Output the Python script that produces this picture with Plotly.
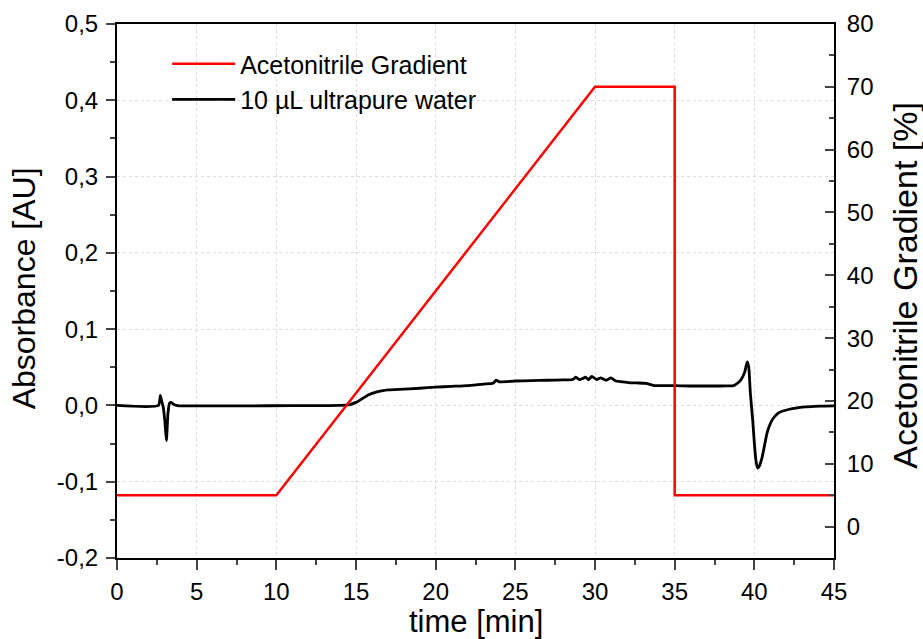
import plotly.graph_objects as go

# ---- data ----
grad_time = [0, 10, 30, 35, 35, 45]
grad_pct = [5, 5, 70, 70, 5, 5]

water_time = [0, 2.6, 2.72, 2.8, 2.9, 3.0, 3.1, 3.2, 3.3, 3.4, 3.6, 3.9, 5, 8, 11, 14,
              14.6, 15.0, 15.4, 15.8, 16.2, 16.6, 17.0, 17.7, 19, 20, 21, 22, 23, 23.6,
              23.8, 24.0, 25, 26, 27, 28, 28.6, 28.8, 29.0, 29.2, 29.4, 29.6, 29.8, 30.1,
              30.35, 30.7, 31.0, 31.3, 31.7, 32.1, 32.6, 33.2, 33.7, 34.3, 35.0, 36, 37,
              38, 38.7, 39.0, 39.2, 39.4, 39.55, 39.65, 39.75, 39.9, 40.0, 40.1, 40.2,
              40.3, 40.5, 40.8, 41.0, 41.2, 41.5, 41.7, 42.2, 42.6, 43.2, 43.8, 44.4, 45]
water_abs = [0.0, 0.0, 0.013, 0.006, -0.002, -0.02, -0.046, -0.01, 0.003, 0.004, 0.001,
             -0.0005, -0.0005, -0.0005, -0.0003, 0.0,
             0.001, 0.004, 0.009, 0.014, 0.017, 0.019, 0.0205, 0.021, 0.0225, 0.024,
             0.025, 0.026, 0.028, 0.029,
             0.033, 0.031, 0.032, 0.0325, 0.033, 0.0335, 0.034, 0.037, 0.034, 0.035,
             0.037, 0.034, 0.038, 0.034,
             0.036, 0.033, 0.036, 0.032, 0.031, 0.030, 0.0295, 0.029, 0.026, 0.026,
             0.026, 0.0255, 0.0255,
             0.0255, 0.026, 0.030, 0.035, 0.044, 0.057, 0.050, 0.016, -0.02, -0.049,
             -0.072, -0.082,
             -0.080, -0.067, -0.036, -0.024, -0.0165, -0.010, -0.008, -0.005, -0.0034,
             -0.002, -0.0013, -0.0008, -0.0005]

abs_ticks = [-0.2, -0.1, 0.0, 0.1, 0.2, 0.3, 0.4, 0.5]
abs_ticklabels = ["-0,2", "-0,1", "0,0", "0,1", "0,2", "0,3", "0,4", "0,5"]
pct_ticks = [0, 10, 20, 30, 40, 50, 60, 70, 80]
time_ticks = [0, 5, 10, 15, 20, 25, 30, 35, 40, 45]

x_title = "time [min]"
y_title = "Absorbance [AU]"
y2_title = "Acetonitrile Gradient [%]"

FONT = "Liberation Sans, Arial, sans-serif"

fig = go.Figure()
fig.add_trace(go.Scatter(x=water_time, y=water_abs, mode="lines",
                         name="10 µL ultrapure water",
                         line=dict(color="black", width=2.8, shape="spline", smoothing=0.5),
                         legendrank=2, yaxis="y"))
fig.add_trace(go.Scatter(x=grad_time, y=grad_pct, mode="lines",
                         name="Acetonitrile Gradient",
                         line=dict(color="#ff0000", width=2.5),
                         legendrank=1, yaxis="y2"))

fig.update_layout(
    width=923, height=639,
    margin=dict(l=117, r=89, t=24, b=81),
    paper_bgcolor="white", plot_bgcolor="white",
    font=dict(family=FONT, size=24, color="black"),
    separators=",.",
    showlegend=True,
    legend=dict(x=0.07, y=0.968, xanchor="left", yanchor="top",
                bgcolor="rgba(0,0,0,0)", font=dict(size=25), itemwidth=63,
                tracegroupgap=0),
    xaxis=dict(range=[0, 45], tickvals=time_ticks, ticks="outside", ticklen=10,
               tickwidth=2, showline=True, linewidth=2, linecolor="black",
               mirror=True, zeroline=False, automargin=False,
               showgrid=True, gridcolor="#dcdcdc", griddash="dot", gridwidth=1,
               minor=dict(dtick=2.5, tick0=0, ticks="outside", ticklen=5, tickwidth=2,
                          showgrid=False),
               ticklabelstandoff=1),
    yaxis=dict(range=[-0.2, 0.5], tickvals=abs_ticks, ticktext=abs_ticklabels,
               ticks="outside", ticklen=9, tickwidth=2, showline=True, linewidth=2,
               linecolor="black", zeroline=False, automargin=False,
               showgrid=True, gridcolor="#dcdcdc", griddash="dot", gridwidth=1,
               minor=dict(dtick=0.05, tick0=0, ticks="outside", ticklen=5, tickwidth=2,
                          showgrid=False),
               ticklabelstandoff=3),
    yaxis2=dict(range=[-5, 80], tickvals=pct_ticks, overlaying="y", side="right",
                ticks="inside", ticklen=9, tickwidth=2, showline=True, linewidth=2,
                linecolor="black", zeroline=False, showgrid=False, automargin=False,
                minor=dict(dtick=5, tick0=0, ticks="inside", ticklen=5, tickwidth=2,
                           showgrid=False),
                ticklabelstandoff=6),
    annotations=[
        dict(text=x_title, xref="paper", yref="paper", x=0.5, y=0,
             xanchor="center", yanchor="top", yshift=-44, showarrow=False,
             font=dict(size=31)),
        dict(text=y_title, xref="paper", yref="paper", x=0, y=0.505,
             xanchor="center", yanchor="middle", xshift=-93, textangle=-90,
             showarrow=False, font=dict(size=32)),
        dict(text=y2_title, xref="paper", yref="paper", x=1, y=0.51,
             xanchor="center", yanchor="middle", xshift=71, textangle=-90,
             showarrow=False, font=dict(size=34)),
    ],
)

fig.write_html("out.html")
